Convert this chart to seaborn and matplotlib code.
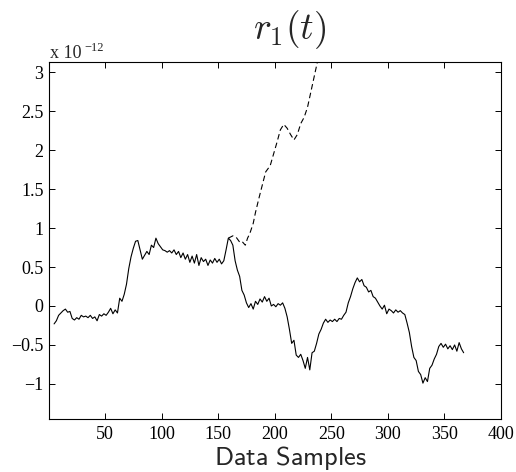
import numpy as np
import pandas as pd
import matplotlib
matplotlib.use("Agg")
import matplotlib.pyplot as plt
import seaborn as sns

# ---- data (units of 1e-12) ----
solid_start = 5
solid_step = 2
solid_y = [
    -0.23, -0.19, -0.12, -0.09, -0.06, -0.04, -0.08, -0.07, -0.16, -0.18,
    -0.15, -0.17, -0.12, -0.14, -0.13, -0.15, -0.12, -0.16, -0.14, -0.19,
    -0.11, -0.13, -0.10, -0.12, -0.08, -0.03, -0.10, -0.05, -0.09, 0.10,
    0.06, 0.15, 0.28, 0.48, 0.63, 0.74, 0.83, 0.84, 0.72, 0.60,
    0.65, 0.70, 0.66, 0.78, 0.75, 0.87, 0.80, 0.76, 0.72, 0.71,
    0.69, 0.71, 0.68, 0.72, 0.66, 0.70, 0.62, 0.68, 0.60, 0.66,
    0.56, 0.64, 0.55, 0.66, 0.52, 0.62, 0.57, 0.60, 0.52, 0.59,
    0.55, 0.61, 0.56, 0.60, 0.54, 0.58, 0.72, 0.87, 0.84, 0.78,
    0.58, 0.46, 0.38, 0.20, 0.14, 0.04, -0.02, 0.03, -0.04, 0.06,
    0.02, 0.09, 0.05, 0.12, 0.06, 0.10, 0.00, 0.02, -0.01, 0.03,
    0.01, 0.04, -0.03, -0.14, -0.30, -0.48, -0.44, -0.63, -0.66, -0.62,
    -0.70, -0.80, -0.66, -0.82, -0.60, -0.58, -0.48, -0.36, -0.30, -0.22,
    -0.17, -0.21, -0.18, -0.20, -0.17, -0.20, -0.16, -0.17, -0.12, -0.08,
    0.04, 0.12, 0.22, 0.30, 0.36, 0.31, 0.34, 0.26, 0.24, 0.18,
    0.20, 0.12, 0.10, 0.05, 0.00, -0.04, 0.01, -0.10, -0.04, -0.06,
    -0.09, -0.05, -0.08, -0.06, -0.09, -0.11, -0.22, -0.34, -0.52, -0.66,
    -0.70, -0.84, -0.88, -0.99, -0.92, -0.97, -0.80, -0.76, -0.68, -0.62,
    -0.52, -0.48, -0.53, -0.49, -0.55, -0.51, -0.56, -0.50, -0.58, -0.47,
    -0.55, -0.60,
]
dashed_x = [159, 163, 166, 169, 171, 174, 176, 178, 181, 183, 186, 189, 192,
            196, 199, 202, 205, 208, 211, 214, 217, 220, 223, 226, 229, 232,
            235, 238, 241]
dashed_y = [0.87, 0.90, 0.88, 0.82, 0.83, 0.78, 0.87, 0.93, 1.06, 1.20, 1.38,
            1.55, 1.72, 1.80, 1.95, 2.10, 2.26, 2.33, 2.28, 2.20, 2.13, 2.20,
            2.34, 2.42, 2.55, 2.75, 2.95, 3.15, 3.40]
x_ticks = [50, 100, 150, 200, 250, 300, 350, 400]
y_ticks = [-1, -0.5, 0, 0.5, 1, 1.5, 2, 2.5, 3]

solid_x = np.arange(solid_start, solid_start + solid_step * len(solid_y), solid_step)
df_solid = pd.DataFrame({"x": solid_x, "y": solid_y})
df_dash = pd.DataFrame({"x": dashed_x, "y": dashed_y})

sns.set_theme(style="white")
plt.rcParams["font.family"] = ["Liberation Serif", "DejaVu Serif"]
plt.rcParams["mathtext.fontset"] = "cm"

W, H = 516, 472
fig = plt.figure(figsize=(W / 100, H / 100), dpi=100)
ax = fig.add_axes([49 / W, 1 - 419 / H, 452 / W, 357 / H])

sns.lineplot(data=df_dash, x="x", y="y", ax=ax, color="black", lw=0.8,
             linestyle=(0, (5, 3)), sort=False)
sns.lineplot(data=df_solid, x="x", y="y", ax=ax, color="black", lw=0.8, sort=False)

ax.set_xlim(0.5, 400)
ax.set_ylim(-1.45, 3.13)
ax.set_xticks(x_ticks)
ax.set_yticks(y_ticks)
ax.set_xticklabels([str(v) for v in x_ticks])
ax.set_yticklabels([("%g" % v).replace("-", "\u2212") for v in y_ticks])
ax.tick_params(direction="in", length=4, width=0.7, colors="black",
               labelsize=13, top=True, right=True, bottom=True, left=True)
ax.tick_params(axis="x", pad=5)
ax.tick_params(axis="y", pad=4)
for s in ax.spines.values():
    s.set_visible(True)
    s.set_color("black")
    s.set_linewidth(0.8)
ax.set_xlabel("")
ax.set_ylabel("")

fig.text(290 / W, 1 - 30 / H, r"$r_1(t)$", ha="center", va="center", fontsize=27)
fig.text(291 / W, 1 - 465 / H, r"$\mathsf{Data\ Samples}$", ha="center",
         va="baseline", fontsize=19)
fig.text(50 / W, 1 - 58 / H, "x 10", ha="left", va="baseline", fontsize=13)
fig.text(84 / W, 1 - 51 / H, "\u221212", ha="left", va="baseline", fontsize=9)

fig.savefig("out.png", dpi=100)
